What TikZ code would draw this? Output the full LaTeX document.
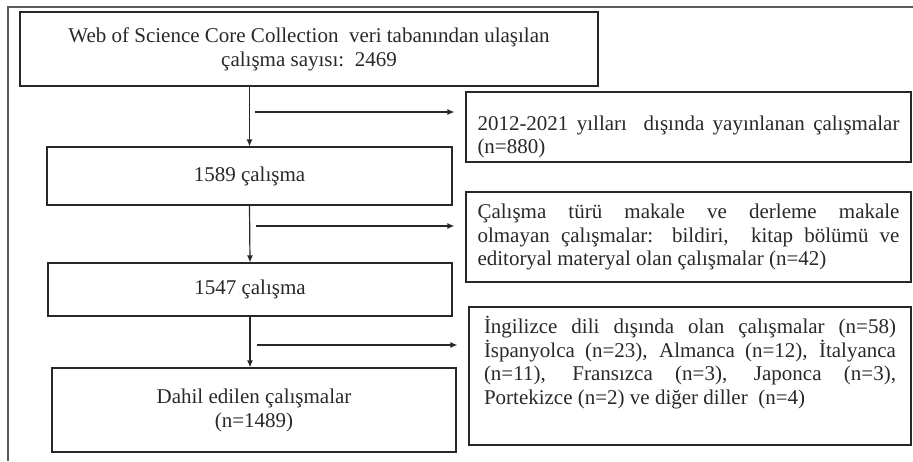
\documentclass[tikz,border=0pt]{standalone}
\usepackage{fontspec}
\setmainfont{Liberation Serif}
\usepackage{tikz}
\usetikzlibrary{arrows.meta, positioning, calc}
\definecolor{flowInk}{RGB}{40,40,40}
\definecolor{frameGrey}{RGB}{90,90,90}

\begin{document}
\begin{tikzpicture}[
      x=1pt, y=-1pt,
      box/.style={draw=flowInk, line width=1.2pt, rectangle, inner sep=0pt,
        font=\fontsize{21}{24}\selectfont, text=flowInk},
      sidebox/.style={box, align=justify, font=\fontsize{21}{23.5}\selectfont},
      arrow/.style={-{Latex[length=7pt,width=6pt]}, line width=1.2pt, draw=flowInk},
      frame/.style={line width=1.2pt, draw=frameGrey}
    ]
    \useasboundingbox (0,0) rectangle (913,461);
    \draw[frame] (8,461) -- (8,7) -- (913,7);

    \node[box, align=center, minimum width=578pt, minimum height=74pt] (wos) at (309,49)
      {Web of Science Core Collection\ \ veri tabanından ulaşılan\\çalışma sayısı:\ \ 2469};
    \node[box, minimum width=405pt, minimum height=58pt] (n1589) at (249.5,176) {1589 çalışma};
    \node[box, minimum width=404pt, minimum height=53pt] (n1547) at (250,289.5) {1547 çalışma};
    \node[box, align=center, minimum width=404pt, minimum height=84pt] (dahil) at (254,410)
      {Dahil edilen çalışmalar\\(n=1489)};

    \node[sidebox, text width=422pt, minimum width=445pt, minimum height=70pt] (yil) at (688.5,127)
      {2012-2021 yılları\ \ dışında yayınlanan çalışmalar\linebreak (n=880)\par\vspace{-20pt}};
    \node[sidebox, text width=422pt, minimum width=445pt, minimum height=90pt] (tur) at (688.5,237)
      {Çalışma türü makale ve derleme makale\linebreak olmayan çalışmalar: bildiri,\ \ kitap bölümü ve\linebreak editoryal materyal olan çalışmalar (n=42)};
    \node[sidebox, text width=412pt, minimum width=442pt, minimum height=138pt] (dil) at (690,376)
      {İngilizce dili dışında olan çalışmalar (n=58)\linebreak İspanyolca (n=23), Almanca (n=12), İtalyanca\linebreak (n=11), Fransızca (n=3), Japonca (n=3),\linebreak Portekizce (n=2) ve diğer diller\ \ (n=4)\par\vspace{27pt}};

    \draw[arrow] (wos.south -| n1589.north) -- (n1589.north);
    \draw[arrow] (n1589.south) -- (n1547.north);
    \draw[arrow] (n1547.south) -- (n1547.south |- dahil.north);

    \coordinate (h1) at (255,112);
    \coordinate (h2) at (256,226);
    \coordinate (h3) at (257,345);
    \draw[arrow, shorten >=11pt] (h1) -- (h1 -| yil.west);
    \draw[arrow, shorten >=11pt] (h2) -- (h2 -| tur.west);
    \draw[arrow, shorten >=11pt] (h3) -- (h3 -| dil.west);
  \end{tikzpicture}
\end{document}
